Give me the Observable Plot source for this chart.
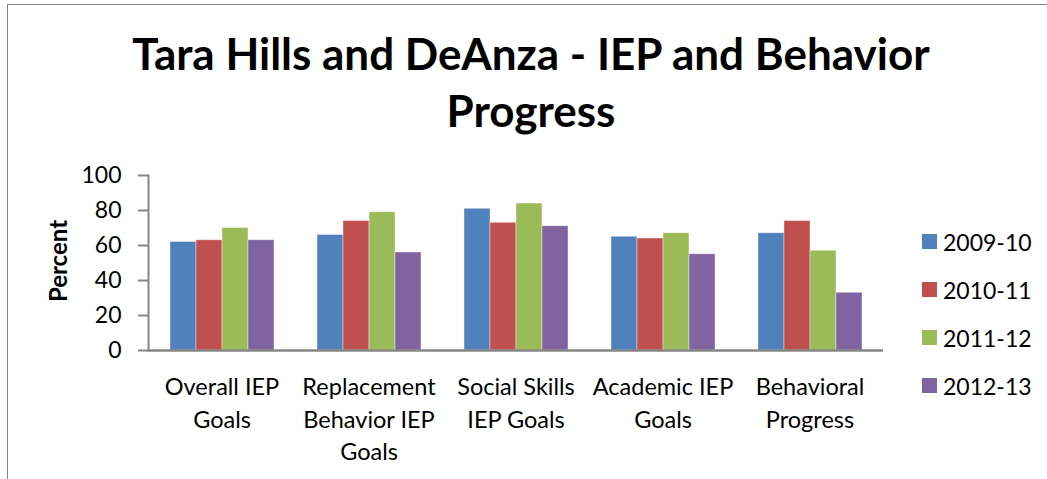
<!DOCTYPE html>
<html>
<head>
<meta charset="utf-8">
<script src="https://cdn.jsdelivr.net/npm/d3@7"></script>
<script src="https://cdn.jsdelivr.net/npm/@observablehq/plot@0.6"></script>
<style>
  html, body { margin: 0; padding: 0; background: #fff; }
  #chart { position: relative; width: 1047px; height: 479px; overflow: hidden; font-family: Lato, "Liberation Sans", sans-serif; color: #000; }
  #border { position: absolute; left: 7px; top: 4px; width: 1100px; height: 600px; border: 1.5px solid #878787; box-sizing: border-box; }
  #title { position: absolute; left: 0; width: 1062px; top: 25px; text-align: center; font-weight: 700; font-size: 44px; line-height: 57px; }
  #ylabel { position: absolute; left: 57px; top: 261px; transform: translate(-50%, -50%) rotate(-90deg); font-weight: 700; font-size: 24px; white-space: nowrap; }
  #legend { position: absolute; left: 922px; top: 227px; font-size: 23px; }
  .row { display: flex; align-items: center; height: 29px; margin-bottom: 19px; }
  .sw { width: 15px; height: 15px; margin-right: 6px; }
  #plot { position: absolute; left: 0; top: 0; }
</style>
</head>
<body>
<div id="chart">
  <div id="border"></div>
  <div id="plot"></div>
  <div id="title"></div>
  <div id="ylabel"></div>
  <div id="legend"></div>
</div>
<script>
const titleLines = ["Tara Hills and DeAnza - IEP and Behavior", "Progress"];
const yLabel = "Percent";
const categories = ["Overall IEP Goals", "Replacement Behavior IEP Goals", "Social Skills IEP Goals", "Academic IEP Goals", "Behavioral Progress"];
const categoryLabels = ["Overall IEP\nGoals", "Replacement\nBehavior IEP\nGoals", "Social Skills\nIEP Goals", "Academic IEP\nGoals", "Behavioral\nProgress"];
const seasons = ["2009-10", "2010-11", "2011-12", "2012-13"];
const values2009 = [62, 66, 81, 65, 67];
const values2010 = [63, 74, 73, 64, 74];
const values2011 = [70, 79, 84, 67, 57];
const values2012 = [63, 56, 71, 55, 33];
const colors = ["#4F81BD", "#C0504D", "#9BBB59", "#8064A2"];
const yTicks = [0, 20, 40, 60, 80, 100];

const seriesValues = [values2009, values2010, values2011, values2012];
const data = categories.flatMap((c, i) => seasons.map((s, j) => ({category: c, season: s, value: seriesValues[j][i]})));
const labelOf = new Map(categories.map((c, i) => [c, categoryLabels[i]]));

const titleEl = document.getElementById("title");
titleLines.forEach(line => {
  const d = document.createElement("div");
  d.textContent = line;
  titleEl.appendChild(d);
});
document.getElementById("ylabel").textContent = yLabel;
const legend = document.getElementById("legend");
seasons.forEach((s, i) => {
  const row = document.createElement("div");
  row.className = "row";
  const sw = document.createElement("div");
  sw.className = "sw";
  sw.style.background = colors[i];
  const t = document.createElement("span");
  t.textContent = s;
  row.appendChild(sw); row.appendChild(t);
  legend.appendChild(row);
});

const chart = Plot.plot({
  width: 1047,
  height: 479,
  marginLeft: 148,
  marginRight: 164,
  marginTop: 175,
  marginBottom: 129,
  style: {fontFamily: "Lato, 'Liberation Sans', sans-serif", fontSize: "23px", color: "#000", background: "transparent", overflow: "visible"},
  fx: {domain: categories, padding: 0, label: null},
  x: {domain: seasons, paddingInner: 0, paddingOuter: 0.78, axis: null},
  y: {domain: [0, 100], label: null},
  color: {domain: seasons, range: colors},
  marks: [
    Plot.barY(data, {fx: "category", x: "season", y: "value", fill: "season", stroke: "#ffffff", strokeOpacity: 0.5, strokeWidth: 0.8}),
    Plot.ruleY([0], {stroke: "#868686", strokeWidth: 2.5}),
    Plot.frame({anchor: "left", facetAnchor: "left", stroke: "#868686", strokeWidth: 2}),
    Plot.axisY({ticks: yTicks, tickSize: 10, tickPadding: 17, fontSize: 23, stroke: "#868686", strokeWidth: 2, strokeOpacity: 1, label: null}),
    Plot.axisFx({anchor: "bottom", tickSize: 0, tickPadding: 22, fontSize: 23.5, lineHeight: 1.37, tickFormat: d => labelOf.get(d), label: null})
  ]
});
document.getElementById("plot").appendChild(chart);
</script>
</body>
</html>
